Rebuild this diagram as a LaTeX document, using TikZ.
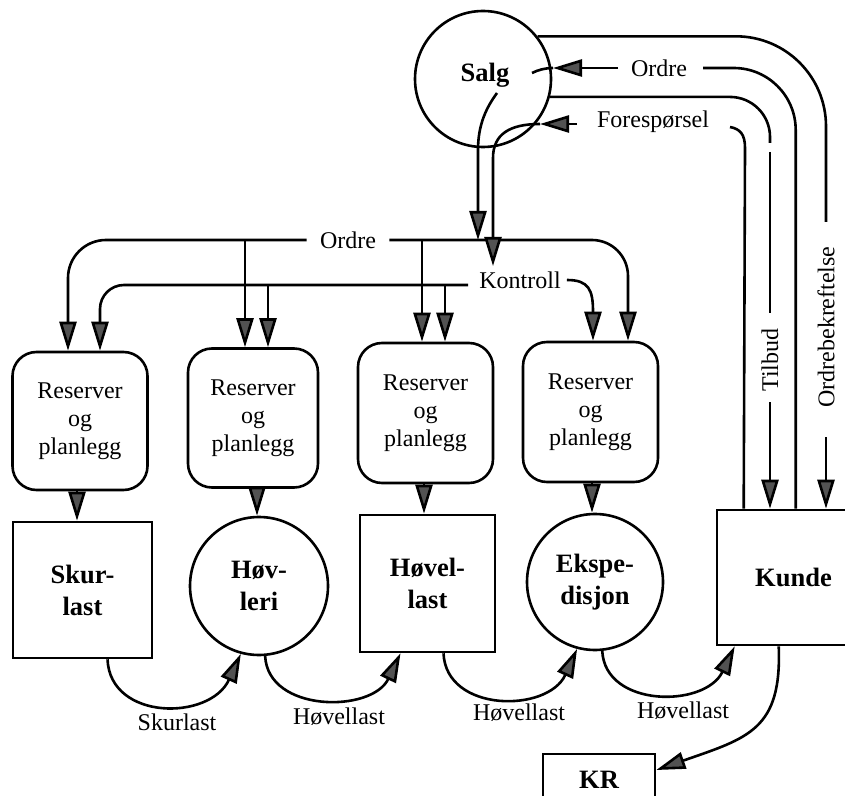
\documentclass[tikz,border=0pt]{standalone}
\usepackage{fontspec}
\setmainfont{Liberation Serif}
\usetikzlibrary{arrows.meta,calc}
\begin{document}
\begin{tikzpicture}[x=0.5pt,y=-0.5pt,line width=1.3pt,
  arr/.style={-{Triangle[length=14.5pt,width=8.5pt,fill=black!68]}},
  proc/.style={draw,rounded corners=12pt,align=center,inner sep=0pt,
    font=\fontsize{12}{14}\selectfont},
  ent/.style={draw,align=center,inner sep=0pt,
    font=\bfseries\fontsize{13.25}{16}\selectfont},
  lab/.style={inner sep=0pt,font=\fontsize{12}{14}\selectfont}]
\useasboundingbox (0,0) rectangle (845,796);
\clip (0,0) rectangle (845,796);

% processes
\node[proc,minimum width=67.5pt,minimum height=69pt] (box1) at (80,421) {Reserver\\og\\planlegg};
\node[proc,minimum width=65pt,minimum height=69.5pt] (box2) at (253,418) {Reserver\\og\\planlegg};
\node[proc,minimum width=67.5pt,minimum height=70pt] (box3) at (425.5,413) {Reserver\\og\\planlegg};
\node[proc,minimum width=67.5pt,minimum height=70pt] (box4) at (590.5,412) {Reserver\\og\\planlegg};

% stores and departments
\node[ent,circle,minimum size=68pt] (salg) at (483,79) {};
\node[ent,draw=none] (salgText) at (485,75) {Salg};
\node[ent,minimum width=69.5pt,minimum height=68pt] (skur) at (82.5,590) {Skur-\\last};
\node[ent,circle,minimum size=69pt] (hovleri) at (259,586) {Høv-\\leri};
\node[ent,minimum width=67.5pt,minimum height=68.5pt] (hovellast) at (427.5,583.5) {Høvel-\\last};
\node[ent,circle,minimum size=68pt] (eksp) at (595,582) {Ekspe-\\disjon};
\node[ent,minimum width=76.5pt,minimum height=67.5pt] (kunde) at (793.5,577.5) {Kunde};
\node[ent,minimum width=56pt,minimum height=26pt] (kr) at (599,780) {KR};

% flow labels
\node[lab] (ordreTop) at (659,68) {Ordre};
\node[lab] (foresp) at (653,122) {Forespørsel};
\node[lab] (ordreBus) at (348,240) {Ordre};
\node[lab] (kontroll) at (520,280) {Kontroll};
\node[lab,rotate=90] (tilbud) at (770,360) {Tilbud};
\node[lab,rotate=90] (obekr) at (826,327) {Ordrebekreftelse};
\node[lab] (lSkur) at (177,722) {Skurlast};
\node[lab] (lHov1) at (339,717) {Høvellast};
\node[lab] (lHov2) at (519,713) {Høvellast};
\node[lab] (lHov3) at (683,711) {Høvellast};

% Salg -> order bus
\coordinate (s1) at (497,93);
\coordinate (s2) at (478,150);
\coordinate (s3) at (478,240);
\draw[arr] (s1) .. controls (486,108) and (478,125) .. (s2) -- (s3);

% order bus
\draw[arr,rounded corners=19pt] ([xshift=-6pt]ordreBus.west) -| ($(box1.north)+(-12,0)$);
\draw[arr,rounded corners=18pt] ([xshift=6pt]ordreBus.east) -| ($(box4.north)+(37.5,0)$);
\coordinate (d2) at (245,240);
\coordinate (d3) at (422,240);
\draw[arr] (d2) -- (d2 |- box2.north);
\draw[arr] (d3) -- (d3 |- box3.north);

% control bus
\coordinate (kE) at (468,285);
\draw[arr,rounded corners=12pt] (kE) -| ($(box1.north)+(20,0)$);
\coordinate (k2) at (268,285);
\coordinate (k3) at (445,285);
\draw[arr] (k2) -- (k2 |- box2.north);
\draw[arr] (k3) -- (k3 |- box3.north);
\coordinate (k4) at (593,312);
\draw[arr] ([xshift=2.5pt]kontroll.east) .. controls +(22,0) and +(0,-22) .. (k4) -- (k4 |- box4.north);

% inquiry
\coordinate (fA) at (577,124);
\coordinate (fB) at (540,124);
\coordinate (fC) at (493,158);
\coordinate (fK) at (493,266);
\draw[arr] (fA) -- (fB);
\draw[arr] (fB) .. controls (510,124) and (493,134) .. (fC) -- (fK);
\coordinate (fD) at (745,148);
\coordinate (fE) at (730,127);
\draw ($(kunde.north west)+(28,0)$) -- (fD) .. controls (745,134) and (740,129) .. (fE);

% order from customer
\coordinate (oA) at (618,68);
\coordinate (oB) at (553,68);
\coordinate (oC) at (532,73);
\coordinate (oD) at (703,68);
\draw[rounded corners=31pt] ($(kunde.north west)+(80,0)$) |- (oD);
\draw[arr] (oA) -- (oB);
\draw (oB) .. controls (545,68) and (538,70) .. (oC);

% offer
\coordinate (t0) at (770,143);
\coordinate (t1) at (770,152);
\coordinate (t2) at (770,313);
\coordinate (t3) at (770,402);
\draw[rounded corners=20pt] (salg.-15) -| (t0);
\draw (t1) -- (t2);
\draw[arr] (t3) -- (t3 |- kunde.north);

% order confirmation
\coordinate (ob0) at (826,222);
\coordinate (ob3) at (826,437);
\draw[rounded corners=45pt] (salg.38) -| (ob0);
\draw[arr] (ob3) -- (ob3 |- kunde.north);

% planning -> units
\coordinate (v1) at (77,0);
\coordinate (v2) at (257,0);
\coordinate (v3) at (424,0);
\coordinate (v4) at (592,0);
\draw[arr] (v1 |- box1.south) -- (v1 |- skur.north);
\draw[arr] (v2 |- box2.south) -- (v2 |- hovleri.north);
\draw[arr] (v3 |- box3.south) -- (v3 |- hovellast.north);
\draw[arr] (v4 |- box4.south) -- (v4 |- eksp.north);

% material flow
\draw[arr] ($(skur.south)+(25,0)$) .. controls (110,721) and (210,721) .. (hovleri.-105);
\draw[arr] (hovleri.-85) .. controls (268,713) and (372,713) .. ($(hovellast.south)+(-27,0)$);
\draw[arr] ($(hovellast.south)+(16,0)$) .. controls (446,713) and (548,713) .. (eksp.-105);
\draw[arr] (eksp.-84) .. controls (605,708) and (705,708) .. ($(kunde.south west)+(19,0)$);
\draw[arr] ($(kunde.south west)+(63,0)$) .. controls (782,730) and (748,738) .. ($(kr.east)+(0,-10)$);
\end{tikzpicture}
\end{document}
